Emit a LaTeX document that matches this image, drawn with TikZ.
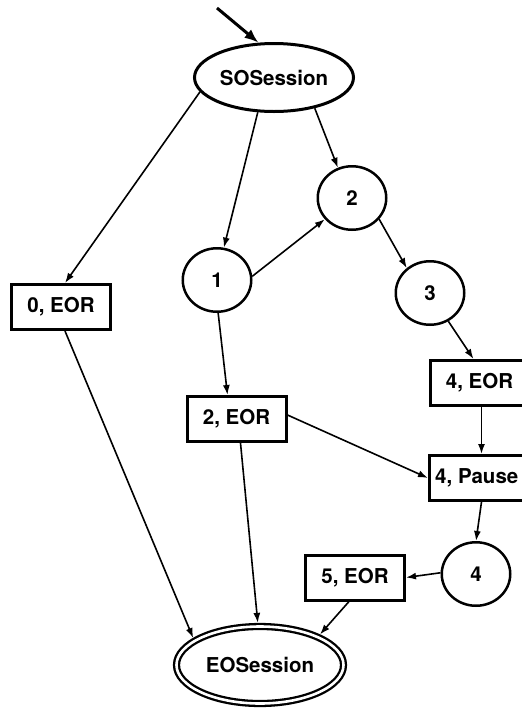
\documentclass[tikz,border=0pt]{standalone}
\usepackage{fontspec}
\setmainfont{TeX Gyre Heros}
\usetikzlibrary{arrows.meta,shapes.geometric}
\begin{document}
\begin{tikzpicture}[x=1pt,y=-1pt,
  lbl/.style={font=\fontsize{20.5}{24}\selectfont\bfseries, inner sep=0pt},
  stateov/.style={lbl, ellipse, draw, line width=3pt, minimum width=159pt, minimum height=68pt, outer sep=1.5pt},
  endov/.style={lbl, ellipse, draw, line width=2.3pt, double, double distance=2.6pt, minimum width=167pt, minimum height=77pt, outer sep=3.6pt},
  circ/.style={lbl, ellipse, draw, line width=2.5pt, minimum width=68.5pt, minimum height=63.5pt, outer sep=1.25pt},
  recbox/.style={lbl, rectangle, draw, line width=3pt, minimum width=99pt, minimum height=45pt, outer sep=1.5pt},
  conn/.style={line width=1.6pt, -{Latex[length=10pt,width=7pt]}},
  entry/.style={line width=3pt, -{Latex[length=14pt,width=11pt]}},
]
\useasboundingbox (0,0) rectangle (522,710);
\clip (0,0) rectangle (522,710);

\node[stateov] (so) at (274,77.5) {SOSession};
\node[endov] (eo) at (260,665) {EOSession};
\node[circ] (c1) at (217,280) {1};
\node[circ] (c2) at (352,198) {2};
\node[circ] (c3) at (430,293) {3};
\node[circ] (c4) at (476,574) {4};
\node[recbox] (e0) at (61,307) {0, EOR};
\node[recbox] (e2) at (236.5,419) {2, EOR};
\node[recbox] (e5) at (355,577.5) {5, EOR};
\node[recbox] (e4) at (479.5,383) {4, EOR};
\node[recbox, minimum width=108pt] (p4) at (483.5,478) {};
\node[lbl, anchor=west] (p4t) at ([xshift=7pt]p4.west) {4, Pause};

\coordinate (start) at (217,8);
\draw[entry] (start) -- (so.114);

\draw[conn] (so.191) -- ([xshift=4pt]e0.north);
\draw[conn] (so.245) -- (c1.78);
\draw[conn] (so.323) -- (c2.115);
\draw[conn] (c1.6) -- (c2.218);
\draw[conn] (c2.322) -- (c3.133);
\draw[conn] (c3.303) -- ([xshift=-6pt]e4.north);
\draw[conn] ([xshift=2pt]e4.south) -- ([xshift=2pt]e4.south |- p4.north);
\draw[conn] (c1.272) -- ([xshift=-9pt]e2.north);
\draw[conn] ([yshift=4pt]e2.east) -- (p4.west);
\draw[conn] ([xshift=-2pt]p4.south) -- (c4.north);
\draw[conn] (c4.178) -- (e5.east);
\draw[conn] ([xshift=-6pt]e5.south) -- (eo.27);
\draw[conn] ([xshift=4pt]e2.south) -- (eo.93);
\draw[conn] ([xshift=4pt]e0.south) -- (eo.158);
\end{tikzpicture}
\end{document}
